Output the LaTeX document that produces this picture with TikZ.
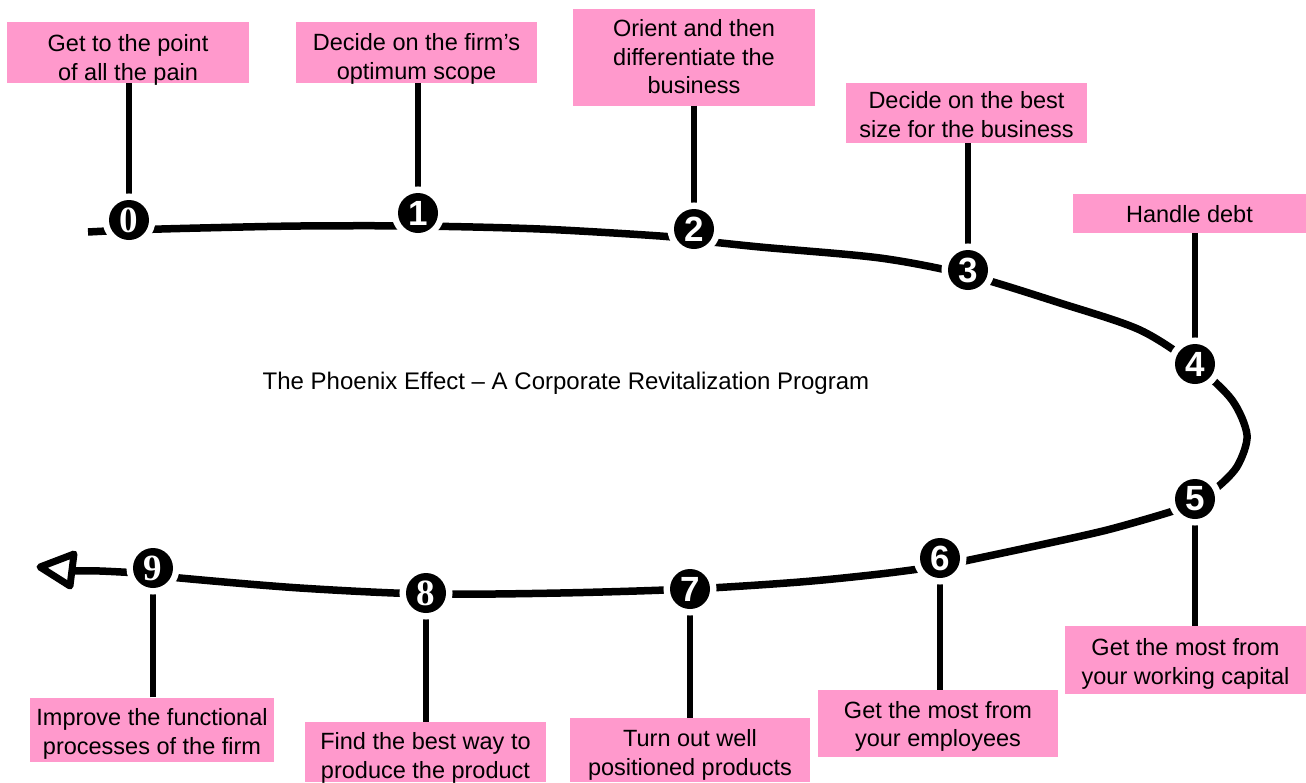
\documentclass[tikz,border=0pt]{standalone}
\usepackage{fontspec}
\setmainfont{Liberation Sans}
\newfontfamily\numserif{Liberation Serif}
\definecolor{boxpink}{RGB}{255,153,204}
\begin{document}
\begin{tikzpicture}[x=1pt,y=-1pt,
  box/.style={fill=boxpink, inner sep=0pt},
  boxtext/.style={inner sep=0pt, align=center, font=\fontsize{23.5}{28.5}\selectfont},
  num/.style={circle, fill=black, text=white, minimum size=40pt, inner sep=0pt,
    preaction={draw=white, line width=13pt}, font=\fontsize{35}{35}\selectfont\bfseries},
  numser/.style={num, font=\numserif\fontsize{37}{37}\selectfont\bfseries},
  stem/.style={line width=5.5pt},
  track/.style={line width=7.5pt, line join=round}]
\useasboundingbox (0,0) rectangle (1306,782);

% boxes
\node[box, minimum width=242pt, minimum height=61pt] (b0) at (128,52.5) {};
\node[box, minimum width=241pt, minimum height=61pt] (b1) at (416.5,52.5) {};
\node[box, minimum width=242pt, minimum height=97pt] (b2) at (694,57) {};
\node[box, minimum width=241pt, minimum height=60pt] (b3) at (966.5,113) {};
\node[box, minimum width=233pt, minimum height=39pt] (b4) at (1189.5,213.5) {};
\node[box, minimum width=241pt, minimum height=68pt] (b5) at (1185.5,660) {};
\node[box, minimum width=240pt, minimum height=67pt] (b6) at (938,723.5) {};
\node[box, minimum width=240pt, minimum height=64pt] (b7) at (690,750) {};
\node[box, minimum width=241pt, minimum height=60pt] (b8) at (425.5,752) {};
\node[box, minimum width=244pt, minimum height=64pt] (b9) at (152,729.5) {};

\node[boxtext, yshift=-7.5pt] (t0) at (b0) {Get to the point\\of all the pain};
\node[boxtext, yshift=-6.5pt] (t1) at (b1) {Decide on the firm’s\\optimum scope};
\node[boxtext, yshift=0pt] (t2) at (b2) {Orient and then\\differentiate the\\business};
\node[boxtext, yshift=-1.5pt] (t3) at (b3) {Decide on the best\\size for the business};
\node[boxtext, yshift=-1pt] (t4) at (b4) {Handle debt};
\node[boxtext, yshift=-4pt] (t5) at (b5) {Get the most from\\your working capital};
\node[boxtext, yshift=-3pt] (t6) at (b6) {Get the most from\\your employees};
\node[boxtext, yshift=-5pt] (t7) at (b7) {Turn out well\\positioned products};
\node[boxtext, yshift=-6pt] (t8) at (b8) {Find the best way to\\produce the product};
\node[boxtext, yshift=-4.5pt] (t9) at (b9) {Improve the functional\\processes of the firm};

% circle positions
\coordinate (p0) at (129,220);
\coordinate (p1) at (418,213);
\coordinate (p2) at (694,229);
\coordinate (p3) at (968,270);
\coordinate (p4) at (1195,364);
\coordinate (p5) at (1195,499);
\coordinate (p6) at (940,558);
\coordinate (p7) at (690,589);
\coordinate (p8) at (426,593);
\coordinate (p9) at (153,568);

% main track
\draw[track] plot[smooth, tension=0.5] coordinates {
  (88,232) (129,230) (200,228) (300,226) (418,226) (540,229) (660,236) (694,240)
  (760,247) (880,258) (968,275) (1060,303) (1140,330) (1196,366) (1232,400)
  (1247,435) (1238,465) (1220,485) (1196,502) (1170,512) (1107,530) (1040,545)
  (960,562) (940,566) (880,574) (800,582) (690,589) (560,593) (426,594)
  (300,588) (180,578) (153,574) (100,571) (72,571)};

% stems
\draw[stem] (b0.south -| p0) -- (p0);
\draw[stem] (b1.south -| p1) -- (p1);
\draw[stem] (b2.south -| p2) -- (p2);
\draw[stem] (b3.south -| p3) -- (p3);
\draw[stem] (b4.south -| p4) -- (p4);
\draw[stem] (b5.north -| p5) -- (p5);
\draw[stem] (b6.north -| p6) -- (p6);
\draw[stem] (b7.north -| p7) -- (p7);
\draw[stem] (b8.north -| p8) -- (p8);
\draw[stem] (b9.north -| p9) -- (p9);

% numbered circles
\node[numser] (c0) at (p0) {0};
\node[num] (c1) at (p1) {1};
\node[num] (c2) at (p2) {2};
\node[num] (c3) at (p3) {3};
\node[num] (c4) at (p4) {4};
\node[num] (c5) at (p5) {5};
\node[num] (c6) at (p6) {6};
\node[num] (c7) at (p7) {7};
\node[numser] (c8) at (p8) {8};
\node[numser] (c9) at (p9) {9};

% arrow head
\coordinate (tip) at (40,567);
\draw[line width=7pt, line join=round, fill=white] (tip) -- (74,554) -- (70,586) -- cycle;

% title
\node[font=\fontsize{24}{28}\selectfont] (title) at (566,383) {The Phoenix Effect – A Corporate Revitalization Program};
\end{tikzpicture}
\end{document}
